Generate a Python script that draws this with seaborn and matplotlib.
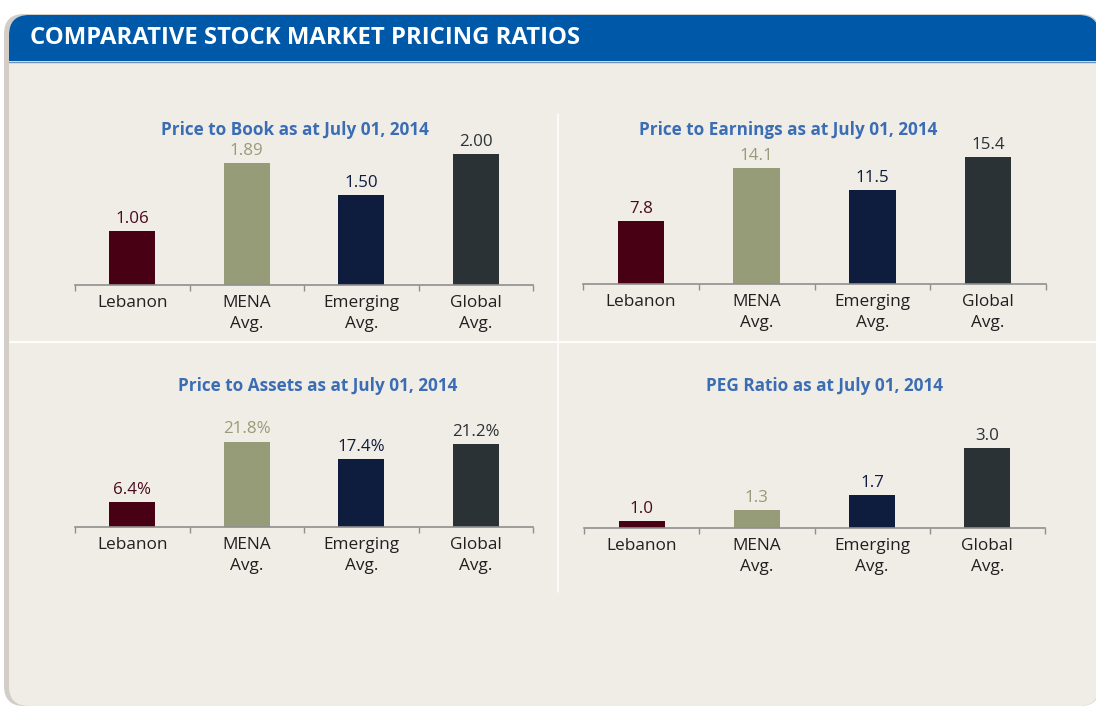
import matplotlib
matplotlib.use("Agg")
import matplotlib.pyplot as plt
import seaborn as sns
import pandas as pd
from matplotlib.patches import FancyBboxPatch, Rectangle
from matplotlib.ticker import FixedLocator

# data
categories = ["Lebanon", "MENA\nAvg.", "Emerging\nAvg.", "Global\nAvg."]
price_to_book = [1.06, 1.89, 1.50, 2.00]
price_to_earnings = [7.8, 14.1, 11.5, 15.4]
price_to_assets = [6.4, 21.8, 17.4, 21.2]
peg_ratio = [1.0, 1.3, 1.7, 3.0]

bar_colors = ["#480014", "#969C78", "#0E1C3E", "#2B3236"]
label_colors = ["#4A0A1E", "#969C78", "#0E1C3E", "#2B3236"]

sns.set_theme(style="white")
plt.rcParams["font.family"] = ["Open Sans", "DejaVu Sans"]

W, H = 1096, 706
fig = plt.figure(figsize=(W / 100, H / 100), dpi=100)
fig.patch.set_facecolor("white")

# background panel drawn in pixel coordinates
bg = fig.add_axes([0, 0, 1, 1])
bg.set_xlim(0, W)
bg.set_ylim(H, 0)
bg.axis("off")

shadow = FancyBboxPatch((4, 14), W, H - 14, boxstyle="round,pad=0,rounding_size=20",
                        facecolor="#D2CDC7", edgecolor="none")
bg.add_patch(shadow)
panel = FancyBboxPatch((9, 15), W - 6, H - 15, boxstyle="round,pad=0,rounding_size=20",
                       facecolor="#F0EDE7", edgecolor="none")
bg.add_patch(panel)
header = Rectangle((0, 0), W, 61, facecolor="#0059A8", edgecolor="none")
bg.add_patch(header)
header.set_clip_path(panel)
bg.plot([9, W], [61.5, 61.5], color="#6F8FB3", lw=1)
bg.text(30, 38, "COMPARATIVE STOCK MARKET PRICING RATIOS", color="white",
        fontsize=17.2, fontweight="bold", va="center", ha="left")

# white separators
bg.plot([10, W], [342, 342], color="white", lw=1.3)
bg.plot([558, 558], [114, 592], color="white", lw=1.1)

panels = [
    # values, fmt, title, title centre x, title y, axis left, right, baseline, top, ylim
    (price_to_book, "{:.2f}", "Price to Book as at July 01, 2014", 295, 130, 75, 533, 285, 140, (0.4, 2.17)),
    (price_to_earnings, "{:.1f}", "Price to Earnings as at July 01, 2014", 788, 130, 583, 1046, 284, 140, (0.3, 17.44)),
    (price_to_assets, "{:.1f}%", "Price to Assets as at July 01, 2014", 318, 386, 75, 533, 527, 400, (0, 32.4)),
    (peg_ratio, "{:.1f}", "PEG Ratio as at July 01, 2014", 824, 386, 584, 1045, 528, 400, (0.8, 4.31)),
]

for values, fmt, title, tx, ty, x0, x1, yb, yt, ylim in panels:
    bg.text(tx, ty, title, color="#3A6DB4", fontsize=12.3, fontweight="bold",
            ha="center", va="center")
    ax = fig.add_axes([x0 / W, 1 - yb / H, (x1 - x0) / W, (yb - yt) / H])
    df = pd.DataFrame({"cat": categories, "val": values})
    sns.barplot(data=df, x="cat", y="val", hue="cat", palette=bar_colors,
                width=0.4, legend=False, ax=ax, saturation=1, linewidth=0)
    ax.set_xlim(-0.5, 3.5)
    ax.set_ylim(*ylim)
    ax.patch.set_alpha(0)
    for s in ["top", "right", "left"]:
        ax.spines[s].set_visible(False)
    ax.spines["bottom"].set_color("#8F8F8F")
    ax.spines["bottom"].set_linewidth(1.2)
    ax.set_xlabel("")
    ax.set_ylabel("")
    ax.set_yticks([])
    ax.xaxis.set_minor_locator(FixedLocator([-0.5, 0.5, 1.5, 2.5, 3.5]))
    ax.tick_params(axis="x", which="major", length=0, pad=7, labelsize=12.4,
                   labelcolor="#231F20")
    ax.tick_params(axis="x", which="minor", length=4, width=1, color="#8F8F8F",
                   direction="out", bottom=True)
    for lab in ax.get_xticklabels():
        lab.set_linespacing(1.45)
    for i, cont in enumerate(ax.containers):
        ax.bar_label(cont, labels=[fmt.format(values[i])], padding=3,
                     fontsize=12.2, color=label_colors[i])

fig.savefig("out.png", dpi=100, facecolor=fig.get_facecolor())
